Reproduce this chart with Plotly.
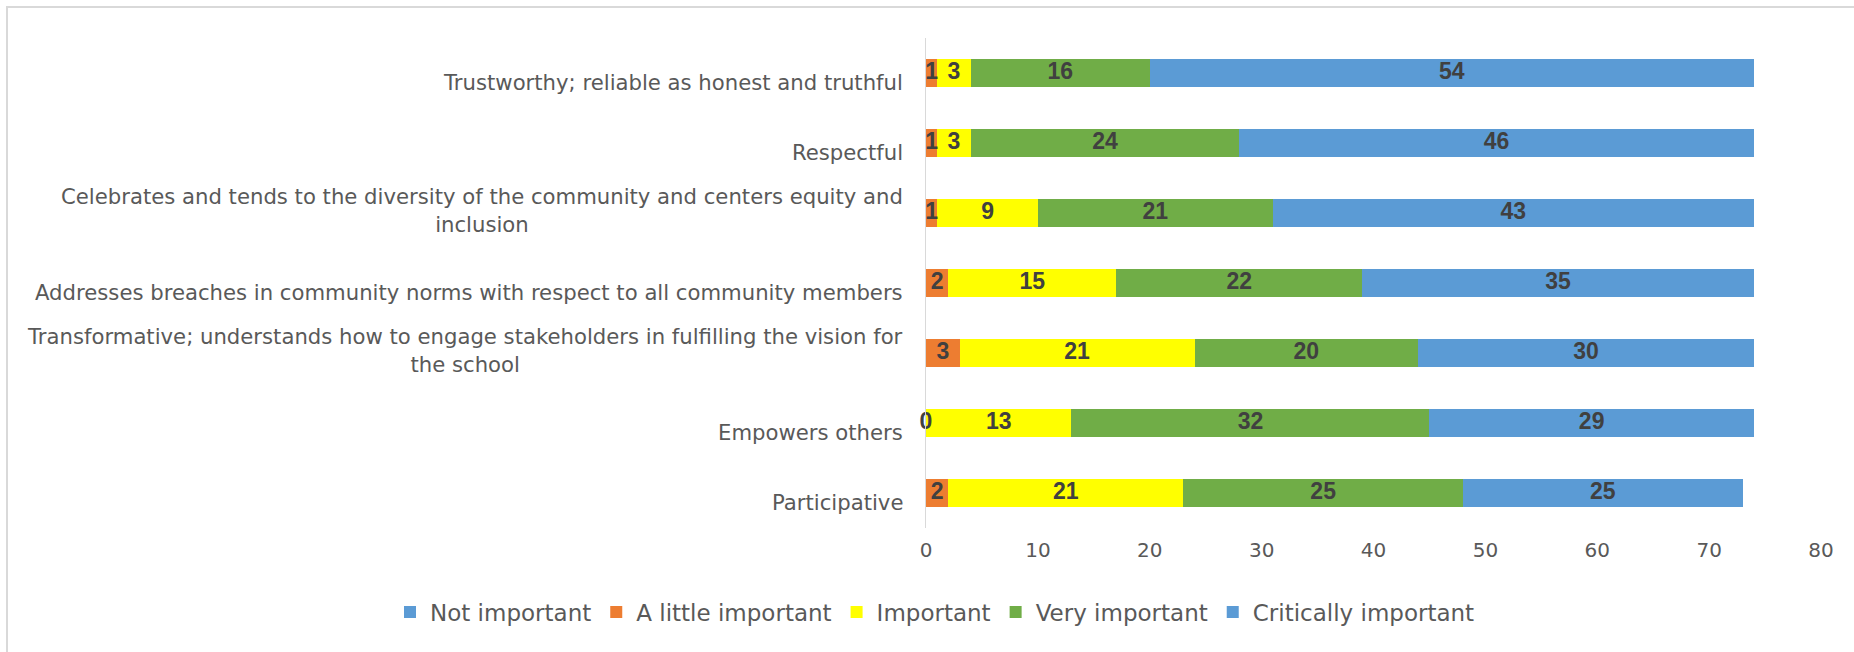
import plotly.graph_objects as go

# ---------------- data ----------------
categories = [
    "Trustworthy; reliable as honest and truthful",
    "Respectful",
    "Celebrates and tends to the diversity of the community and centers equity and<br>inclusion",
    "Addresses breaches in community norms with respect to all community members",
    "Transformative; understands how to engage stakeholders in fulfilling the vision for<br>the school",
    "Empowers others",
    "Participative",
]
series_names = ["Not important", "A little important", "Important",
                "Very important", "Critically important"]
not_important = [0, 0, 0, 0, 0, 0, 0]
a_little_important = [1, 1, 1, 2, 3, 0, 2]
important = [3, 3, 9, 15, 21, 13, 21]
very_important = [16, 24, 21, 22, 20, 32, 25]
critically_important = [54, 46, 43, 35, 30, 29, 25]
x_tick_values = [0, 10, 20, 30, 40, 50, 60, 70, 80]

series_values = [not_important, a_little_important, important,
                 very_important, critically_important]
series_colors = ["#5B9BD5", "#ED7D31", "#FFFF00", "#70AD47", "#5B9BD5"]
series_labelled = [False, True, True, True, True]

# ---------------- geometry (pixels) ----------------
W, H = 1854, 652
plot_left, plot_right = 926, 1821
plot_top, plot_bottom = 38, 528
pw = plot_right - plot_left
ph = plot_bottom - plot_top

label_font = "DejaVu Sans"
grey = "#595959"

fig = go.Figure()

for name, vals, color in zip(series_names, series_values, series_colors):
    fig.add_trace(go.Bar(
        y=categories, x=vals, name=name, orientation="h",
        marker=dict(color=color, line=dict(width=0)),
        hoverinfo="x+name",
    ))

# data labels, centred on each stacked segment
lab_x, lab_y, lab_t = [], [], []
cum = [0] * len(categories)
for vals, show in zip(series_values, series_labelled):
    for i, v in enumerate(vals):
        if show:
            lab_x.append(cum[i] + v / 2)
            lab_y.append(categories[i])
            lab_t.append(str(v))
        cum[i] += v
fig.add_trace(go.Scatter(
    x=lab_x, y=lab_y, text=lab_t, mode="text", textposition="middle center",
    textfont=dict(family="Liberation Sans", size=23, color="#404040", weight="bold"),
    showlegend=False, hoverinfo="skip", cliponaxis=False,
))

# category labels
for cat in categories:
    two_line = "<br>" in cat
    fig.add_annotation(
        x=0, y=cat, xref="x", yref="y", text=cat, showarrow=False,
        xanchor="right", yanchor="middle", align="center",
        xshift=-21, yshift=3 if two_line else -9,
        font=dict(family=label_font, size=21.2, color=grey),
    )

# chart border (light grey frame)
fig.add_shape(
    type="rect", xref="paper", yref="paper",
    x0=(7 - plot_left) / pw, x1=(W + 10 - plot_left) / pw,
    y0=(plot_bottom - (H + 10)) / ph, y1=(plot_bottom - 7) / ph,
    line=dict(color="#D9D9D9", width=2), fillcolor="rgba(0,0,0,0)", layer="below",
)

fig.update_layout(
    width=W, height=H,
    margin=dict(l=plot_left, r=W - plot_right, t=plot_top, b=H - plot_bottom,
                pad=0, autoexpand=False),
    barmode="stack", bargap=0.6,
    paper_bgcolor="white", plot_bgcolor="white",
    showlegend=True,
    legend=dict(
        orientation="h", traceorder="normal",
        x=(390 - plot_left) / pw, xanchor="left",
        y=(plot_bottom - 612) / ph, yanchor="middle",
        font=dict(family=label_font, size=23, color=grey),
        bgcolor="rgba(0,0,0,0)",
    ),
    xaxis=dict(
        range=[0, 80], tickvals=x_tick_values, showgrid=False, zeroline=False,
        showline=False, ticks="", ticklabelstandoff=8,
        tickfont=dict(family=label_font, size=20, color=grey),
        fixedrange=True,
    ),
    yaxis=dict(
        categoryorder="array", categoryarray=categories,
        range=[len(categories) - 0.5, -0.5], autorange=False,
        showticklabels=False, showgrid=False, zeroline=False,
        showline=True, linecolor="#D9D9D9", linewidth=1, ticks="",
        fixedrange=True,
    ),
)

fig.write_html(
    "out.html",
    config={"displayModeBar": False},
    post_script="document.body.style.margin='0';document.body.style.overflow='hidden';",
)
